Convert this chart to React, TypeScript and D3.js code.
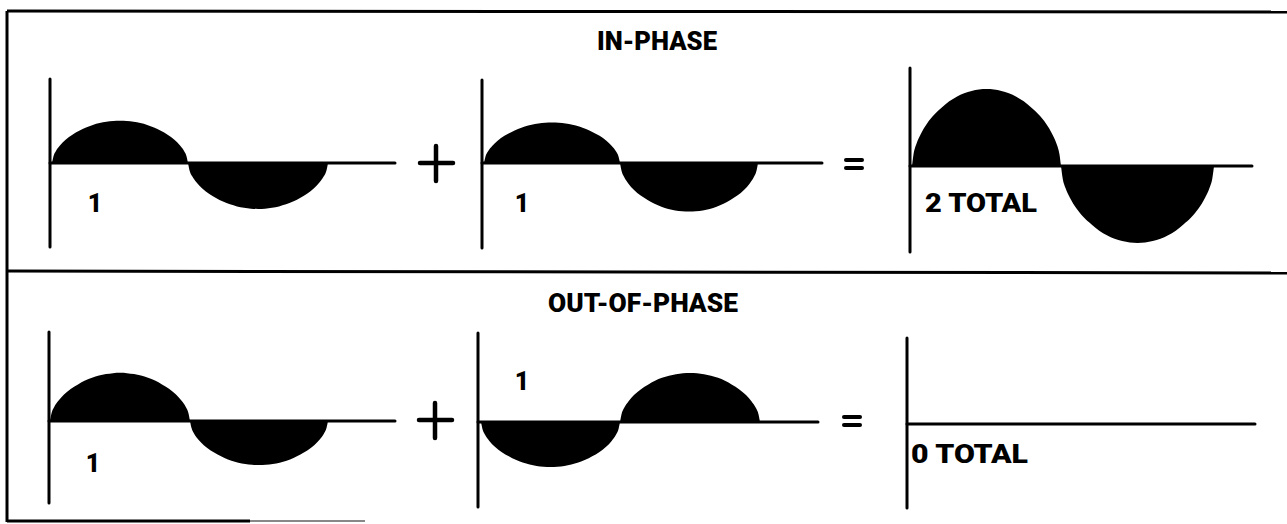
import React from "react";
import * as d3 from "d3";

// ---- data ----
const rowTitles = ["IN-PHASE", "OUT-OF-PHASE"];
// shape of one half-cycle hump (fraction of half period -> relative height)
const humpFrac = [0, 0.01, 0.03, 0.06, 0.1, 0.15, 0.2, 0.25, 0.3, 0.35, 0.4, 0.45, 0.5, 0.55, 0.6, 0.65, 0.7, 0.75, 0.8, 0.85, 0.9, 0.94, 0.97, 0.99, 1];
const humpHeight = [0, 0.15, 0.29, 0.42, 0.55, 0.67, 0.76, 0.84, 0.9, 0.945, 0.975, 0.994, 1, 0.994, 0.975, 0.945, 0.9, 0.84, 0.76, 0.67, 0.55, 0.42, 0.29, 0.15, 0];
// half-cycle amplitudes of each wave (units)
const inPhaseWave1 = [0.94, -1.02];
const inPhaseWave2 = [0.9, -1.08];
const inPhaseTotal = [2, -2];
const outPhaseWave1 = [1.07, -0.98];
const outPhaseWave2 = [-1, 1.09];
const outPhaseTotal = [0, 0];
const waveLabels = ["1", "1", "2 TOTAL", "1", "1", "0 TOTAL"];
const operatorSymbols = ["+", "="];

const waves = [inPhaseWave1, inPhaseWave2, inPhaseTotal, outPhaseWave1, outPhaseWave2, outPhaseTotal];

// ---- layout ----
const W = 1287;
const H = 524;
const FONT = "Roboto, 'Liberation Sans', 'DejaVu Sans', sans-serif";

type Panel = {
  axisX: number; top: number; bottom: number; base: number; lineEnd: number;
  xs: [number, number, number]; unit: number; maxV: number;
  label: { x: number; y: number; anchor: string; len?: number };
};

const panels: Panel[] = [
  { axisX: 50, top: 79, bottom: 247, base: 163, lineEnd: 395, xs: [52, 188, 328], unit: 45, maxV: 1, label: { x: 95, y: 212, anchor: "middle" } },
  { axisX: 482, top: 80, bottom: 248, base: 163, lineEnd: 822, xs: [484, 620, 758], unit: 45, maxV: 1, label: { x: 522, y: 212, anchor: "middle" } },
  { axisX: 910, top: 68, bottom: 252, base: 166, lineEnd: 1252, xs: [912, 1061, 1214], unit: 38.5, maxV: 2, label: { x: 925, y: 212, anchor: "start", len: 112 } },
  { axisX: 49, top: 332, bottom: 503, base: 421, lineEnd: 395, xs: [50, 190, 328], unit: 45, maxV: 1, label: { x: 93, y: 472, anchor: "middle" } },
  { axisX: 478, top: 333, bottom: 507, base: 422, lineEnd: 818, xs: [481, 620, 760], unit: 45, maxV: 1, label: { x: 522, y: 390, anchor: "middle" } },
  { axisX: 907, top: 338, bottom: 508, base: 424, lineEnd: 1255, xs: [909, 1060, 1210], unit: 38.5, maxV: 2, label: { x: 911, y: 463, anchor: "start", len: 117 } },
];

const titlePos = [
  { x: 657, y: 50, len: 120 },
  { x: 643, y: 312, len: 190 },
];

const opPos = [
  { x: 436, y: 163 }, { x: 854, y: 164 },
  { x: 435, y: 420 }, { x: 852, y: 421 },
];

function wavePath(p: Panel, values: number[]): string {
  const x = d3.scaleLinear().domain([0, 1, 2]).range(p.xs);
  const y = d3.scaleLinear().domain([-p.maxV, p.maxV]).range([p.base + p.unit * p.maxV, p.base - p.unit * p.maxV]);
  const pts: [number, number, number][] = [];
  values.forEach((v, i) => {
    humpFrac.forEach((f, j) => {
      if (i > 0 && j === 0) return;
      pts.push([x(i + f), y(v * humpHeight[j]), y(0)]);
    });
  });
  const area = d3.area<[number, number, number]>()
    .x((d) => d[0])
    .y0((d) => d[2])
    .y1((d) => d[1])
    .curve(d3.curveMonotoneX);
  return area(pts) || "";
}

export default function App() {
  const sw = 3;
  return (
    <svg width={W} height={H} viewBox={`0 0 ${W} ${H}`} style={{ position: "absolute", left: 0, top: 0, background: "#fff" }}>
      <rect x={0} y={0} width={W} height={H} fill="#fff" />
      {/* frame */}
      <line x1={7} y1={11} x2={W} y2={12} stroke="#000" strokeWidth={sw} />
      <line x1={7} y1={11} x2={7} y2={522} stroke="#000" strokeWidth={sw} />
      <line x1={7} y1={271} x2={W} y2={273} stroke="#000" strokeWidth={sw} />
      <line x1={7} y1={521} x2={250} y2={521} stroke="#000" strokeWidth={sw} />
      <line x1={250} y1={521} x2={365} y2={521} stroke="#888" strokeWidth={2} />

      {/* titles */}
      {rowTitles.map((t, i) => (
        <text key={t} x={titlePos[i].x} y={titlePos[i].y} textAnchor="middle" fontFamily={FONT} fontWeight={900}
          fontSize={25} textLength={titlePos[i].len} lengthAdjust="spacingAndGlyphs" fill="#000">{t}</text>
      ))}

      {panels.map((p, i) => (
        <g key={i}>
          <path d={wavePath(p, waves[i])} fill="#000" />
          <line x1={p.axisX} y1={p.top} x2={p.axisX} y2={p.bottom} stroke="#000" strokeWidth={sw} strokeLinecap="round" />
          <line x1={p.axisX} y1={p.base} x2={p.lineEnd} y2={p.base} stroke="#000" strokeWidth={sw} strokeLinecap="round" />
          <text x={p.label.x} y={p.label.y} textAnchor={p.label.anchor} fontFamily={FONT} fontWeight={900}
            fontSize={25} fill="#000" textLength={p.label.len} lengthAdjust={p.label.len ? "spacingAndGlyphs" : undefined}>
            {waveLabels[i]}
          </text>
        </g>
      ))}

      {/* operators */}
      {opPos.map((o, i) => {
        const sym = operatorSymbols[i % 2];
        return sym === "+" ? (
          <g key={i} aria-label={sym}>
            <line x1={o.x - 16} y1={o.y} x2={o.x + 17} y2={o.y} stroke="#000" strokeWidth={4.5} strokeLinecap="round" />
            <line x1={o.x} y1={o.y - 17} x2={o.x} y2={o.y + 18} stroke="#000" strokeWidth={4.5} strokeLinecap="round" />
          </g>
        ) : (
          <g key={i} aria-label={sym}>
            <line x1={o.x - 8} y1={o.y - 4} x2={o.x + 8} y2={o.y - 4} stroke="#000" strokeWidth={4} strokeLinecap="round" />
            <line x1={o.x - 8} y1={o.y + 4} x2={o.x + 8} y2={o.y + 4} stroke="#000" strokeWidth={4} strokeLinecap="round" />
          </g>
        );
      })}
    </svg>
  );
}
